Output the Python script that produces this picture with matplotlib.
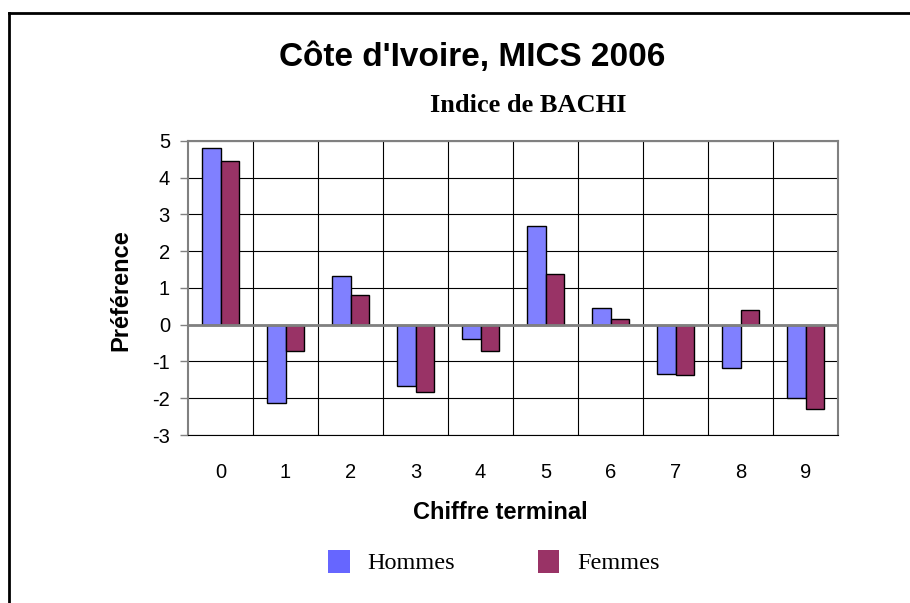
import matplotlib
matplotlib.use("Agg")
import matplotlib.pyplot as plt
from matplotlib.lines import Line2D
from matplotlib.patches import Patch
import numpy as np

# data
chiffres = ["0", "1", "2", "3", "4", "5", "6", "7", "8", "9"]
hommes = [4.80, -2.14, 1.33, -1.68, -0.40, 2.70, 0.45, -1.33, -1.17, -1.98]
femmes = [4.45, -0.71, 0.82, -1.84, -0.71, 1.38, 0.15, -1.38, 0.40, -2.29]
yticks = [-3, -2, -1, 0, 1, 2, 3, 4, 5]

col_h = "#8080FF"
col_f = "#993366"

plt.rcParams["font.family"] = ["Liberation Sans", "DejaVu Sans"]

fig = plt.figure(figsize=(9.1, 6.03), dpi=100)
ax = fig.add_axes([0.2066, 0.2786, 0.7143, 0.4876])

x = np.arange(len(chiffres))
w = 0.29
ax.bar(x - w / 2, hommes, w, color=col_h, edgecolor="black", linewidth=1, zorder=3)
ax.bar(x + w / 2, femmes, w, color=col_f, edgecolor="black", linewidth=1, zorder=3)

ax.set_xlim(-0.5, len(chiffres) - 0.5)
ax.set_ylim(-3, 5)
ax.set_yticks(yticks)
ax.set_yticklabels([str(v) for v in yticks], fontsize=14.5)
ax.set_xticks(x)
ax.set_xticklabels(chiffres, fontsize=14.5)

# grid: horizontal lines at each unit, vertical between categories
for v in yticks:
    ax.axhline(v, color="black", linewidth=0.8, zorder=1)
for b in np.arange(0.5, len(chiffres) - 0.5, 1):
    ax.axvline(b, color="black", linewidth=0.8, zorder=1)
ax.axhline(0, color="#808080", linewidth=2, zorder=4)

for s in ["top", "left", "right"]:
    ax.spines[s].set_color("#808080")
    ax.spines[s].set_linewidth(1.5)
ax.spines["bottom"].set_color("black")
ax.spines["bottom"].set_linewidth(0.8)

ax.tick_params(axis="x", length=0, pad=20)
ax.tick_params(axis="y", length=6, width=1, color="#808080", pad=7)

ax.set_xlabel("Chiffre terminal", fontsize=17, fontweight="bold")
ax.xaxis.set_label_coords(0.481, -0.226)
ax.set_ylabel("Préférence", fontsize=17, fontweight="bold")
ax.yaxis.set_label_coords(-0.085, 0.494)

fig.text(472 / 910, 1 - 57.5 / 603, "Côte d'Ivoire, MICS 2006",
         fontsize=24, fontweight="bold", ha="center", va="center")
fig.text(528 / 910, 1 - 105 / 603, "Indice de BACHI",
         fontsize=19, fontweight="heavy", ha="center", va="center",
         family=["Liberation Serif", "DejaVu Serif"])

handles = [Patch(facecolor="#6666FF", edgecolor="none"),
           Patch(facecolor=col_f, edgecolor="none")]
fig.legend(handles, ["Hommes", "Femmes"], loc="center",
           bbox_to_anchor=(494 / 910, 1 - 562 / 603), ncol=2, frameon=False,
           prop={"family": ["Liberation Serif", "DejaVu Serif"], "size": 17.5},
           handlelength=0.87, handleheight=1.1, handletextpad=0.74,
           columnspacing=3.4)

# outer border (only top and left sides are visible)
fig.add_artist(Line2D([9 / 910, 9 / 910], [0, 1 - 13 / 603], color="black",
                      linewidth=2, transform=fig.transFigure))
fig.add_artist(Line2D([9 / 910, 1], [1 - 13 / 603, 1 - 13 / 603], color="black",
                      linewidth=2, transform=fig.transFigure))

fig.savefig("out.png", dpi=100)
